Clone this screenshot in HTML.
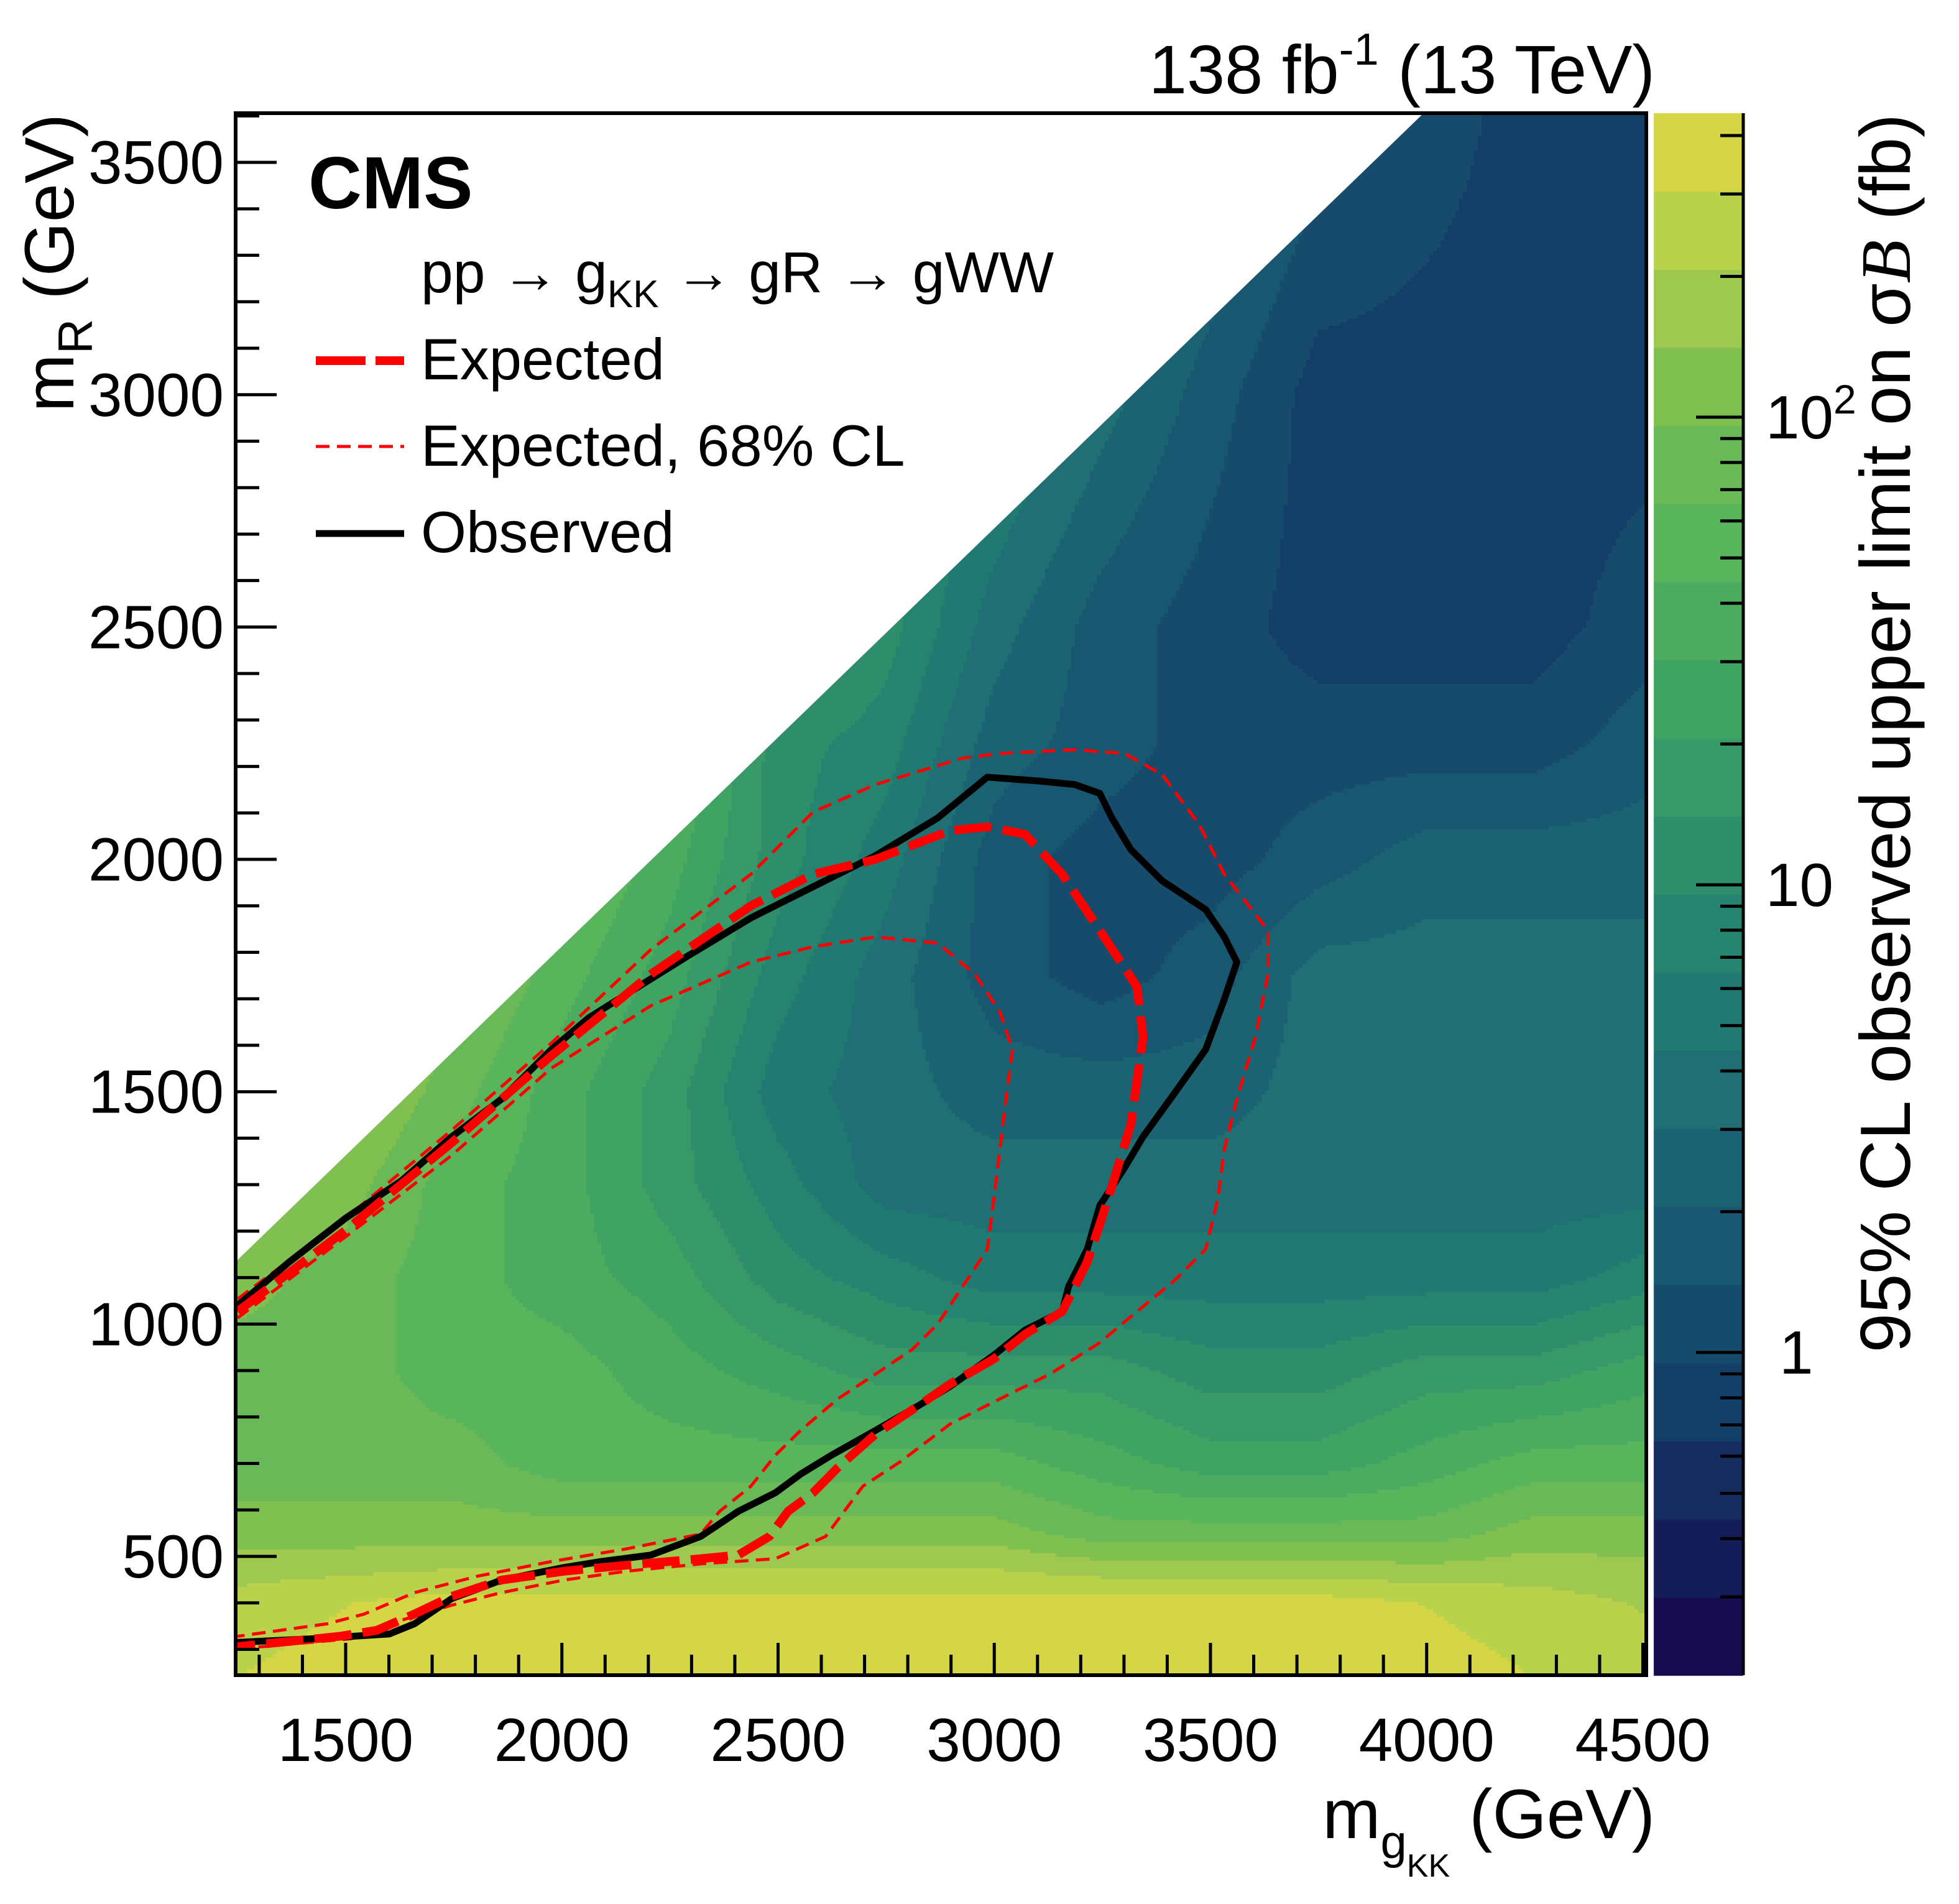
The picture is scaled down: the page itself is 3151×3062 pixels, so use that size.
<!DOCTYPE html>
<html><head><meta charset="utf-8">
<style>
html,body{margin:0;padding:0;background:#fff;}
#wrap{position:relative;width:3151px;height:3062px;overflow:hidden;font-family:"Liberation Sans",sans-serif;}
canvas,svg{position:absolute;left:0;top:0;}
</style></head>
<body>
<div id="wrap">
<canvas id="hm" width="3151" height="3062"></canvas>
<svg id="sv" width="3151" height="3062" xmlns="http://www.w3.org/2000/svg"></svg>
</div>
<script>
// ---- heatmap data (fb) ----
const gridM = [1250,1500,1750,2000,2250,2500,2750,3000,3250,3500,3750,4000,4250,4500];
const gridR = [250,400,550,700,900,1100,1300,1500,1750,2000,2250,2500,3000,3600];
const limitRow250  = [300,360,360,360,360,360,360,360,360,360,360,360,300,250];
const limitRow400  = [250,300,360,360,360,360,360,360,360,360,360,300,250,200];
const limitRow550  = [115,115,115,115,115,115,115,115,78,78,78,78,115,115];
const limitRow700  = [78,78,78,53,53,53,53,53,36,25,25,36,53,53];
const limitRow900  = [78,78,53,53,36,25,17,17,17,11.5,11.5,17,17,25];
const limitRow1100 = [115,78,53,36,25,11.5,7.8,5.3,5.3,5.3,5.3,5.3,5.3,7.8];
const limitRow1300 = [170,115,53,36,17,7.8,3.6,3.6,3.6,3.6,3.6,3.6,3.6,3.6];
const limitRow1500 = [170,170,78,36,17,5.3,3.6,2.5,2.5,2.5,3.6,3.6,3.6,3.6];
const limitRow1750 = [170,170,115,53,25,7.8,3.6,1.7,1.15,1.7,3.6,3.6,3.6,3.6];
const limitRow2000 = [170,170,115,78,36,11.5,5.3,1.7,1.15,1.15,1.7,2.5,2.5,2.5];
const limitRow2250 = [170,170,115,78,53,11.5,7.8,2.5,1.7,1.15,1.15,1.15,1.15,1.7];
const limitRow2500 = [170,170,115,78,53,25,11.5,3.6,1.7,1.15,0.8,0.8,0.8,1.15];
const limitRow3000 = [170,170,115,78,53,25,11.5,7.8,3.6,1.7,0.8,0.8,0.8,0.8];
const limitRow3600 = [170,170,115,78,53,25,11.5,7.8,5.3,3.6,1.7,1.15,0.8,0.8];
const limitGrid = [limitRow250,limitRow400,limitRow550,limitRow700,limitRow900,limitRow1100,limitRow1300,limitRow1500,limitRow1750,limitRow2000,limitRow2250,limitRow2500,limitRow3000,limitRow3600];
const bandColors = ["#180c50","#151d59","#152c61","#133e68","#164b6c","#175770","#1b6373","#1f6f74","#217a72","#25836f","#2e8d6b","#379868","#3fa363","#4bab5e","#59b55c","#6ab958","#7fc050","#9ec84f","#b9d24c","#d4d646"];
const zLogMin = -0.69, zLogMax = 2.65;
// ---- contours (mgKK, mR) ----
const obsM = [1250,1370,1500,1630,1745,1860,1976,2062,2177,2293,2437,2581,2725,2869,2984,3100,3186,3244,3272,3316,3388,3489,3532,3561,3532,3489,3417,3344,3301,3244,3215,3172,3157,3071,2999,2898,2826,2725,2624,2552,2494,2408,2321,2206,2091,2004,1860,1745,1659,1601,1428,1250];
const obsR = [1040,1134,1228,1309,1403,1484,1591,1659,1726,1793,1874,1941,2008,2089,2177,2169,2161,2142,2089,2021,1954,1892,1833,1779,1699,1591,1497,1403,1336,1255,1161,1081,1027,987,933,866,825,771,718,677,637,597,543,503,489,476,449,409,355,333,323,315];
const expM = [1250,1500,1745,1976,2206,2437,2581,2725,2898,2984,3071,3157,3244,3330,3344,3316,3272,3244,3215,3157,3071,2999,2898,2826,2725,2638,2581,2523,2480,2408,2321,2148,2004,1860,1745,1659,1572,1486,1250];
const expR = [1027,1202,1390,1578,1753,1900,1968,2000,2062,2070,2054,1968,1847,1726,1618,1430,1296,1215,1134,1027,978,925,871,825,763,691,637,597,543,503,495,481,468,449,414,376,341,328,306];
const innM = [1250,1500,1745,1976,2206,2437,2581,2725,2869,2955,3013,3042,3027,3013,2999,2984,2927,2869,2811,2725,2638,2552,2494,2437,2365,2321,2148,1976,1803,1659,1543,1457,1250];
const innR = [1013,1188,1363,1551,1685,1779,1812,1833,1820,1753,1672,1591,1484,1376,1269,1161,1081,1000,946,892,839,771,718,651,597,548,516,489,457,422,376,355,328];
const outM = [1250,1500,1745,1976,2206,2437,2581,2725,2927,3013,3186,3301,3388,3474,3532,3633,3633,3604,3561,3532,3517,3489,3417,3330,3244,3128,3013,2898,2783,2696,2610,2494,2321,2148,2004,1860,1745,1630,1514,1250];
const outR = [1054,1228,1417,1605,1806,1968,2102,2161,2218,2228,2236,2228,2183,2075,1968,1847,1753,1618,1484,1376,1269,1161,1094,1027,960,892,839,785,704,651,543,495,484,468,449,422,395,363,323,301];
const xTicks = [1500,2000,2500,3000,3500,4000,4500];
const yTicks = [500,1000,1500,2000,2500,3000,3500];
const zTicks = [1,10,100];

// ---- axes ----
const PL=379, PR=2648, PT=182, PB=2694;
function X(m){return 556+(m-1500)*0.6955;}
function Y(r){return 2503-(r-500)*0.7473;}
const CBL=2660, CBR=2804;
function ZY(v){return PB-(Math.log10(v)-zLogMin)/(zLogMax-zLogMin)*(PB-PT);}

// ---- heatmap draw ----
function idx(arr,v){let i=0;while(i<arr.length-2&&v>arr[i+1])i++;return i;}
function interp(m,r){
  const i=idx(gridM,m), j=idx(gridR,r);
  let tx=(m-gridM[i])/(gridM[i+1]-gridM[i]); tx=Math.max(0,Math.min(1,tx));
  let ty=(r-gridR[j])/(gridR[j+1]-gridR[j]); ty=Math.max(0,Math.min(1,ty));
  const L=v=>Math.log10(v);
  const a=L(limitGrid[j][i]),b=L(limitGrid[j][i+1]),c=L(limitGrid[j+1][i]),d=L(limitGrid[j+1][i+1]);
  return (a*(1-tx)+b*tx)*(1-ty)+(c*(1-tx)+d*tx)*ty;
}
const ctx=document.getElementById('hm').getContext('2d');
const step=6;
for(let py=PT;py<PB;py+=step){
  for(let px=PL;px<PR;px+=step){
    const m=1500+(px+step/2-556)/0.6955, r=500+(2503-(py+step/2))/0.7473;
    const z=interp(m,r);
    let k=Math.floor((z-zLogMin)/(zLogMax-zLogMin)*bandColors.length);
    k=Math.max(0,Math.min(bandColors.length-1,k));
    ctx.fillStyle=bandColors[k];
    ctx.fillRect(px,py,Math.min(step,PR-px),Math.min(step,PB-py));
  }
}
for(let k=0;k<bandColors.length;k++){
  const h=(PB-PT)/bandColors.length;
  ctx.fillStyle=bandColors[k];
  ctx.fillRect(CBL,PB-(k+1)*h,CBR-CBL,h+1);
}

// ---- svg overlay ----
const NS="http://www.w3.org/2000/svg";
const sv=document.getElementById('sv');
function mk(tag,attrs,parent){const e=document.createElementNS(NS,tag);for(const k in attrs)e.setAttribute(k,attrs[k]);(parent||sv).appendChild(e);return e;}

const mask=mk('polygon',{points:`${PL},${PT} ${PL},${Y(1134)} ${X(3993)},${PT}`,fill:'#fff'});



function contour(ms,rs,name,style){
  const pts=ms.map((m,i)=>X(m).toFixed(1)+','+Y(rs[i]).toFixed(1)).join(' ');
  const p=mk('polyline',Object.assign({points:pts,fill:'none','stroke-linejoin':'round'},style));
  
  
}
contour(innM,innR,'expected-68-inner-contour',{stroke:'#ff0000','stroke-width':5,'stroke-dasharray':'22 12'});
contour(outM,outR,'expected-68-outer-contour',{stroke:'#ff0000','stroke-width':5,'stroke-dasharray':'22 12'});
contour(obsM,obsR,'observed-contour',{stroke:'#000','stroke-width':11});
contour(expM,expR,'expected-contour',{stroke:'#ff0000','stroke-width':14,'stroke-dasharray':'60 18'});

const fr=mk('rect',{x:PL,y:PT,width:PR-PL,height:PB-PT,fill:'none',stroke:'#000','stroke-width':6});



let tk='';
for(let m=1300;m<=4500;m+=100){const x=X(m);const major=m%500===0;tk+=`M${x},${PB}V${PB-(major?52:33)}`;}
for(let r=300;r<=3600;r+=100){const y=Y(r);const major=r%500===0;tk+=`M${PL},${y}H${PL+(major?66:38)}`;}
const tp=mk('path',{d:tk,stroke:'#000','stroke-width':5,fill:'none'});



xTicks.forEach(v=>{const t=mk('text',{x:X(v),y:2832,'font-size':98,'text-anchor':'middle'});t.textContent=v;

});
yTicks.forEach(v=>{const t=mk('text',{x:360,y:Y(v)+34,'font-size':98,'text-anchor':'end'});t.textContent=v;

});

let ctk=`M${CBR},${PT}V${PB}`;
for(let d=-1;d<=2;d++){for(let n=1;n<=9;n++){const v=n*Math.pow(10,d);if(v<0.204||v>449)continue;const y=ZY(v);ctk+=`M${CBR},${y}H${CBR-(n===1?76:37)}`;}}
const cp=mk('path',{d:ctk,stroke:'#000','stroke-width':5,fill:'none'});


zTicks.forEach(v=>{
  const t=mk('text',{x:2840,y:ZY(v)+34,'font-size':98});
  
  
  if(v===100){t.innerHTML='10<tspan font-size="66" dy="-40">2</tspan>';}
  else t.textContent=v;
  if(v===1)t.setAttribute('x',2862);
});
</script>
<svg width="3151" height="3062" style="position:absolute;left:0;top:0;font-family:'Liberation Sans',sans-serif">
<text x="2662" y="150" font-size="110" text-anchor="end">138 fb<tspan font-size="72" dy="-46">-1</tspan><tspan dy="46"> (13 TeV)</tspan></text>
<text x="496" y="335" font-size="119" font-weight="bold">CMS</text>
<text x="677" y="470" font-size="93">pp → g<tspan font-size="62" dy="24">KK</tspan><tspan dy="-24"> → gR → gWW</tspan></text>
<line x1="508" y1="580" x2="650" y2="580" stroke="#f00" stroke-width="14" stroke-dasharray="80 16"/>
<text x="677" y="610" font-size="94">Expected</text>
<line x1="508" y1="718" x2="650" y2="718" stroke="#f00" stroke-width="5" stroke-dasharray="22 12"/>
<text x="677" y="749" font-size="94">Expected, 68% CL</text>
<line x1="508" y1="858" x2="650" y2="858" stroke="#000" stroke-width="11"/>
<text x="677" y="888" font-size="94">Observed</text>
<text x="2662" y="2956" font-size="112" text-anchor="end">m<tspan font-size="76" dy="32">g</tspan><tspan font-size="52" dy="30">KK</tspan><tspan dy="-62"> (GeV)</tspan></text>
<text transform="translate(118,183) rotate(-90)" font-size="112" text-anchor="end">m<tspan font-size="78" dy="30">R</tspan><tspan dy="-30"> (GeV)</tspan></text>
<text transform="translate(3072,183) rotate(-90)" font-size="114" text-anchor="end">95% CL observed upper limit on σ<tspan font-style="italic" font-family="Liberation Serif, serif">B</tspan> (fb)</text>
</svg>
</body></html>
